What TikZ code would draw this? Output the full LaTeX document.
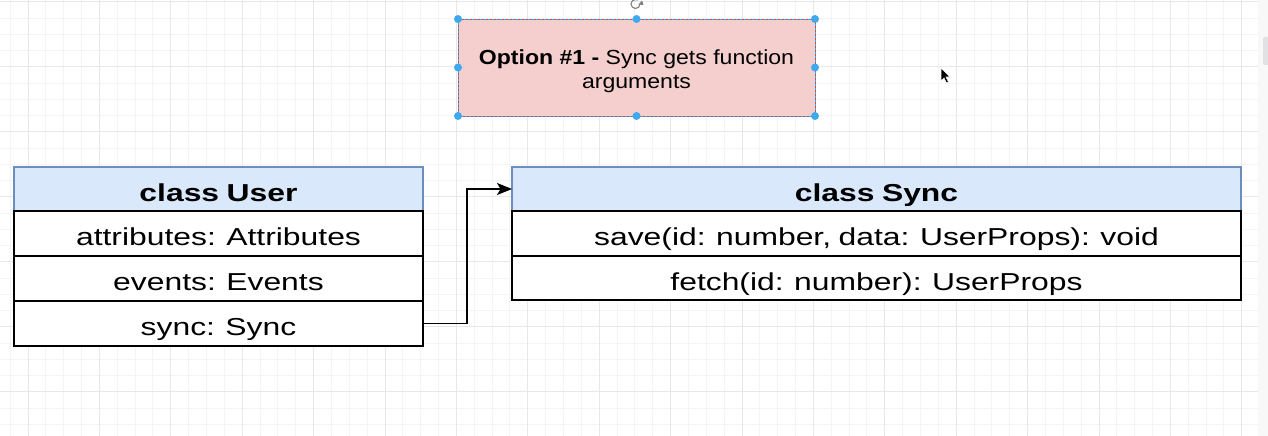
\documentclass[tikz,border=0pt]{standalone}
\usepackage{fontspec}
\setmainfont{Liberation Sans}
\newfontfamily\clsfont{Liberation Sans}[FakeStretch=1.3, WordSpace=0.85]
\newfontfamily\optfont{Liberation Sans}[FakeStretch=1.13]
\usetikzlibrary{arrows.meta}
\definecolor{hdrfill}{HTML}{DAE8FC}
\definecolor{hdrline}{HTML}{6C8EBF}
\definecolor{pinkfill}{HTML}{F4CFCD}
\definecolor{pinkline}{HTML}{B85450}
\definecolor{handle}{HTML}{3FA9F0}
\definecolor{gridminor}{HTML}{F4F4F4}
\definecolor{gridmajor}{HTML}{E8E8E8}
\definecolor{strip}{HTML}{F8F8F9}
\definecolor{thumb}{HTML}{E2E2E4}
\begin{document}
\begin{tikzpicture}[x=1pt,y=-1pt,
  clsbase/.style={inner sep=0pt, outer sep=0pt, text height=24pt, text depth=0pt,
    font=\clsfont\fontsize{24.5}{29}\selectfont},
  hdr/.style={clsbase, draw=hdrline, fill=hdrfill, line width=1.2pt, minimum height=44pt,
    font=\clsfont\bfseries\fontsize{24.5}{29}\selectfont},
  rowbox/.style={clsbase, draw=black, fill=white, line width=1.3pt, minimum height=45pt},
  conn/.style={draw=black, line width=1.4pt, -{Stealth[length=15pt,width=12pt,inset=3.5pt]}},
  optbox/.style={fill=pinkfill, draw=pinkline, line width=0.8pt, minimum width=357pt,
    minimum height=97pt, inner sep=0pt, outer sep=0pt, align=center,
    font=\optfont\fontsize{20.4}{24}\selectfont},
  hdl/.style={fill=handle}
]
\useasboundingbox (0,0) rectangle (1268,436);
\fill[white] (0,0) rectangle (1268,436);
% grid
\begin{scope}
\clip (0,0) rectangle (1258,436);
\foreach \i in {0,...,70}{
  \pgfmathsetmacro\xx{10.05+17.85*\i}
  \draw[gridminor, line width=0.8pt] (\xx,0) -- (\xx,436);
}
\foreach \i in {0,...,26}{
  \pgfmathsetmacro\yy{1.7+16.25*\i}
  \draw[gridminor, line width=0.8pt] (0,\yy) -- (1258,\yy);
}
\foreach \i in {0,...,17}{
  \pgfmathsetmacro\xx{27.9+71.4*\i}
  \draw[gridmajor, line width=0.8pt] (\xx,0) -- (\xx,436);
}
\foreach \i in {0,...,6}{
  \pgfmathsetmacro\yy{1.7+65*\i}
  \draw[gridmajor, line width=0.8pt] (0,\yy) -- (1258,\yy);
}
\end{scope}
% scrollbar strip
\fill[strip] (1258,0) rectangle (1268,436);
\fill[thumb, rounded corners=2pt] (1263,37) rectangle (1270,65);

% option box
\node[optbox] (opt) at (636.5,67.5) {};
\node[font=\optfont\fontsize{20.4}{24}\selectfont, align=center, inner sep=0pt] (optt) at (636.5,71.5)
  {{\bfseries Option \#1 -} Sync gets function\\arguments};
\draw[handle, line width=0.7pt, dash pattern=on 2pt off 2pt] (opt.north west) rectangle (opt.south east);
\foreach \p in {north west,north,north east,west,east,south west,south,south east}
  \fill[hdl] (opt.\p) circle (4pt);
% rotate handle
\draw[gray, line width=1.1pt] (640,4) arc[start angle=0, end angle=300, radius=4.5];
\fill[gray] (638.5,4.5) -- (642,0.5) -- (643.5,5) -- cycle;

% class User
\node[hdr, minimum width=409pt] (uh) at (218.5,189) {class User};
\node[rowbox, minimum width=409pt] (u1) at (218.5,233.5) {attributes: Attributes};
\node[rowbox, minimum width=409pt] (u2) at (218.5,278.5) {events: Events};
\node[rowbox, minimum width=409pt] (u3) at (218.5,323.5) {sync: Sync};

% class Sync
\node[hdr, minimum width=729pt] (sh) at (876.5,189) {class Sync};
\node[rowbox, minimum width=729pt] (s1) at (876.5,233.5) {save(id: number, data: UserProps): void};
\node[rowbox, minimum width=729pt, minimum height=44pt] (s2) at (876.5,278) {fetch(id: number): UserProps};

% connector
\draw[conn] (u3.east) -- (467,323.5) |- (sh.west);

% mouse cursor
\filldraw[fill=black, draw=white, line width=0.6pt] (941,68) -- (941,81) -- (944,78) -- (946.5,83) -- (948.5,82) -- (946,77) -- (950,77) -- cycle;
\end{tikzpicture}
\end{document}
